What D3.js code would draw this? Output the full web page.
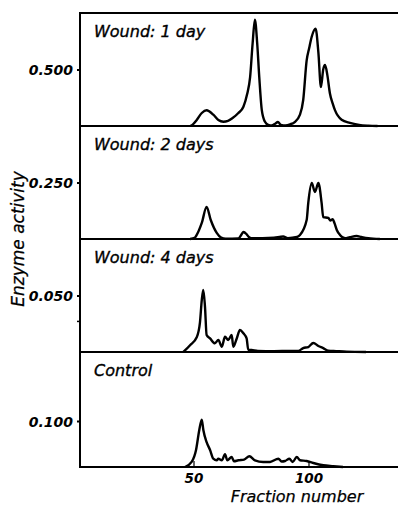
<!DOCTYPE html>
<html><head><meta charset="utf-8">
<script src="https://cdn.jsdelivr.net/npm/d3@7"></script>
<style>body{margin:0;background:#fff} svg{display:block}</style>
</head><body>
<svg id="c" width="398" height="511"></svg>
<script>
// ---- data ----
const panelTitles = ["Wound: 1 day", "Wound: 2 days", "Wound: 4 days", "Control"];
const yMax = [1.0, 0.5, 0.1, 0.25];
const yTickValues = [[0.5], [0.25], [0.05], [0.1]];
const yTickLabels = [["0.500"], ["0.250"], ["0.050"], ["0.100"]];
const yMinorTicks = [[], [], [0.0275], []];
const xTicks = [50, 100];
const xTickLabels = ["50", "100"];
const xLabel = "Fraction number";
const yLabel = "Enzyme activity";

const day1Fraction = [48.5,49.5,51.4,53.6,55.7,58.6,60.8,63,65,67,69.5,71.7,73.3,74.6,75.7,76.7,77.7,78.6,79.7,81,82.5,84,85.5,86.7,88,90,92,94,96.3,97.7,99.2,100.3,101.4,103.1,104.3,105.4,106.4,107.2,108.2,109.3,110.5,111.5,114.4,118,122,126,130];
const day1Activity = [0,0.01,0.053,0.115,0.14,0.1,0.053,0.038,0.045,0.07,0.115,0.17,0.28,0.43,0.73,0.94,0.73,0.43,0.14,0.04,0.01,0.005,0.02,0.035,0.01,0.005,0.015,0.035,0.1,0.23,0.58,0.69,0.79,0.86,0.65,0.345,0.5,0.54,0.45,0.29,0.2,0.14,0.055,0.027,0.01,0.003,0];

const day2Fraction = [48.5,50.5,51.4,53.6,55.7,57.5,60.1,62,64,69.5,71,71.7,73,74,75,80,85,89,91,95,96.3,99.2,99.9,101.4,102.8,104.3,105.7,106.4,108.6,109.5,110.5,111.3,112.3,113.7,115.9,118,120.9,123,126,131];
const day2Activity = [0,0.005,0.018,0.071,0.142,0.084,0.027,0.006,0.001,0.002,0.022,0.031,0.022,0.009,0.004,0.004,0.006,0.011,0.004,0.009,0.018,0.084,0.16,0.248,0.208,0.248,0.16,0.097,0.093,0.082,0.088,0.07,0.04,0.018,0.003,0.008,0.013,0.009,0.004,0];

const day4Fraction = [45.6,48.5,51.4,52.8,53.6,54.26,55.0,55.7,57.2,59.3,60.8,62.3,63.7,65.1,66.6,67.3,68.8,70.2,71.7,73.1,73.8,75.3,78,85,92,95.6,97.7,99.9,102.1,104.3,106.4,108.6,112,116.6,125];
const day4Activity = [0,0.006,0.013,0.026,0.046,0.055,0.04,0.015,0.012,0.0077,0.0106,0.0047,0.0135,0.0106,0.015,0.0047,0.012,0.0195,0.0165,0.012,0.002,0.0018,0.001,0.0008,0.001,0.001,0.0035,0.0044,0.008,0.0053,0.0035,0.0012,0.0008,0.0003,0];

const controlFraction = [46.3,49.2,51.1,52.5,53.6,54.3,55.7,57.2,58.6,60.1,60.8,62.3,63.7,64.7,66.6,67.6,69.5,72,74.3,76.7,80.3,83.3,86.9,88.3,89.8,91.7,93.1,94.9,96.3,99.2,102.1,106.4,110.8,115];
const controlActivity = [0,0.011,0.037,0.08,0.103,0.08,0.054,0.037,0.018,0.0146,0.018,0.0146,0.0276,0.0146,0.0217,0.0124,0.0146,0.016,0.0233,0.0146,0.011,0.011,0.018,0.012,0.013,0.018,0.011,0.0217,0.0146,0.013,0.0087,0.0037,0.0017,0];

const seriesFractions = [day1Fraction, day2Fraction, day4Fraction, controlFraction];
const seriesActivity = [day1Activity, day2Activity, day4Activity, controlActivity];

// ---- layout ----
const svg = d3.select("#c");
const left = 80, right = 398;
const panelTop = [13, 126, 239, 352];
const panelBottom = [126, 239, 352, 467];
const font = "'DejaVu Sans', sans-serif";

const x = d3.scaleLinear().domain([0, 140]).range([78.5, 400.5]);

panelTitles.forEach((title, i) => {
  const y = d3.scaleLinear().domain([0, yMax[i]]).range([panelBottom[i], panelTop[i]]);
  const g = svg.append("g");

  // curve
  const pts = seriesFractions[i].map((f, k) => [f, seriesActivity[i][k]]);
  g.append("path")
    .datum(pts)
    .attr("fill", "none")
    .attr("stroke", "#000")
    .attr("stroke-width", 2.4)
    .attr("stroke-linejoin", "round")
    .attr("d", d3.line().x(d => x(d[0])).y(d => y(d[1])).curve(d3.curveMonotoneX));

  // y axis ticks
  const ax = d3.axisLeft(y).tickValues(yTickValues[i])
    .tickFormat((d, k) => yTickLabels[i][k]).tickSize(3).tickPadding(4);
  const ga = g.append("g").attr("transform", `translate(${left},0)`).call(ax);
  ga.select(".domain").remove();
  ga.selectAll("line").attr("stroke", "#000").attr("stroke-width", 2);
  ga.selectAll("text").attr("font-family", font).attr("font-style", "italic")
    .attr("font-weight", "bold").attr("font-size", 14).attr("fill", "#000").attr("dy", "0.38em");
  if (yMinorTicks[i].length) {
    const am = d3.axisLeft(y).tickValues(yMinorTicks[i]).tickFormat("").tickSize(3);
    const gm = g.append("g").attr("transform", `translate(${left},0)`).call(am);
    gm.select(".domain").remove();
    gm.selectAll("line").attr("stroke", "#000").attr("stroke-width", 1.5);
  }

  // panel title
  g.append("text").attr("x", 94).attr("y", panelTop[i] + 24)
    .attr("font-family", font).attr("font-style", "italic").attr("font-size", 16)
    .attr("fill", "#000").attr("stroke", "#000").attr("stroke-width", 0.35)
    .text(title);

  // panel bottom separator
  g.append("line").attr("x1", left).attr("x2", right)
    .attr("y1", panelBottom[i]).attr("y2", panelBottom[i])
    .attr("stroke", "#000").attr("stroke-width", 2);
});

// top border and left axis
svg.append("line").attr("x1", left).attr("x2", right).attr("y1", 13).attr("y2", 13)
  .attr("stroke", "#000").attr("stroke-width", 2);
svg.append("line").attr("x1", left).attr("x2", left).attr("y1", 12).attr("y2", 468)
  .attr("stroke", "#000").attr("stroke-width", 2);

// bottom x axis (inward ticks)
const xa = d3.axisBottom(x).tickValues(xTicks).tickFormat((d, k) => xTickLabels[k])
  .tickSizeInner(-6).tickSizeOuter(0).tickPadding(6);
const gx = svg.append("g").attr("transform", `translate(0,${panelBottom[3]})`).call(xa);
gx.select(".domain").remove();
gx.selectAll("line").attr("stroke", "#000").attr("stroke-width", 1.2);
gx.selectAll("text").attr("font-family", font).attr("font-style", "italic")
  .attr("font-weight", "bold").attr("font-size", 13.5).attr("fill", "#000");

// axis labels
svg.append("text").attr("x", 297).attr("y", 502).attr("text-anchor", "middle")
  .attr("font-family", font).attr("font-style", "italic").attr("font-size", 16)
  .attr("fill", "#000").attr("stroke", "#000").attr("stroke-width", 0.25).text(xLabel);
svg.append("text").attr("transform", "translate(24,239) rotate(-90)").attr("text-anchor", "middle")
  .attr("font-family", font).attr("font-style", "italic").attr("font-size", 17)
  .attr("fill", "#000").attr("stroke", "#000").attr("stroke-width", 0.25).text(yLabel);
</script>
</body></html>
